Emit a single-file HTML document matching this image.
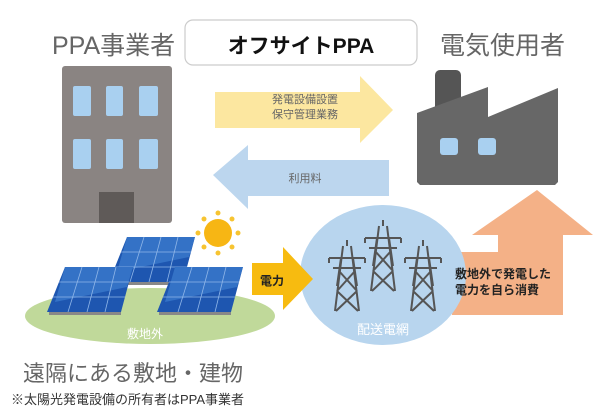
<!DOCTYPE html>
<html><head><meta charset="utf-8"><style>
body{margin:0;background:#fff;width:602px;height:417px;overflow:hidden;position:relative;font-family:"Liberation Sans","Noto Sans CJK JP",sans-serif}
.t{position:absolute;white-space:nowrap}
</style></head><body>
<svg width="602" height="417" style="position:absolute;left:0;top:0">
<defs>
<g id="tw" stroke="#555" stroke-width="2" fill="none">
<path d="M-4,0 L-12,65 M4,0 L12,65 M0,-6 L0,0 M-18,12 L18,12 M-14,22 L14,22 M-6,12 L-10,40 M6,12 L10,40 M-8,25 L10,45 M8,25 L-10,45 M-10,45 L11,65 M10,45 L-11,65 M-18,12 L-18,17 M18,12 L18,17"/>
</g>
<g id="pn">
<polygon points="0,0 68,0 56,45 -18,45" fill="#1e56b0"/>
<polygon points="0,0 68,0 62,20 -10,35" fill="#3d7fd0" opacity="0.7"/>
<g stroke="#8fb6e8" stroke-width="0.8"><line x1="-6" y1="15" x2="64" y2="15"/><line x1="-12" y1="30" x2="60" y2="30"/><line x1="17" y1="0" x2="3" y2="45"/><line x1="34" y1="0" x2="22" y2="45"/><line x1="51" y1="0" x2="40" y2="45"/></g>
<rect x="-16" y="45" width="72" height="3" fill="#888"/>
</g>
</defs>
<!-- building -->
<rect x="62" y="66" width="110" height="157" rx="3" fill="#8a8482"/>
<g fill="#a9d0f0"><rect x="73" y="86" width="18" height="30" rx="2"/><rect x="106" y="86" width="17" height="30" rx="2"/><rect x="139" y="86" width="19" height="30" rx="2"/>
<rect x="73" y="139" width="18" height="30" rx="2"/><rect x="106" y="139" width="17" height="30" rx="2"/><rect x="139" y="139" width="19" height="30" rx="2"/></g>
<rect x="99" y="192" width="35" height="31" fill="#5f5a58"/>
<!-- title box -->
<rect x="185" y="20" width="232" height="45" rx="8" fill="#fff" stroke="#ccc" stroke-width="1.2"/>
<!-- yellow arrow -->
<polygon points="215,92 360,92 360,76 393,110 360,143 360,128 215,128" fill="#fce7a0"/>
<!-- blue arrow -->
<polygon points="213,175 248,145 248,160 389,160 389,196 248,196 248,209" fill="#bcd6ee"/>
<!-- factory -->
<rect x="435" y="70" width="26" height="50" rx="5" fill="#555"/>
<polygon points="417,113 488,87 488,117 558,88 558,182 555,185 420,185 417,182" fill="#676767"/>
<rect x="440" y="138" width="18" height="17" rx="3" fill="#a9d0f0"/><rect x="478" y="138" width="18" height="17" rx="3" fill="#a9d0f0"/>
<!-- orange -->
<polygon points="537,190 593,235 563,235 563,315 452,315 452,252 498,252 498,235 472,235" fill="#f4b187"/>
<!-- circle -->
<ellipse cx="383" cy="275" rx="83" ry="70" fill="#b8d5ee"/>
<use href="#tw" x="347" y="246"/><use href="#tw" x="383" y="226"/><use href="#tw" x="423" y="246"/>
<!-- yellow small arrow -->
<polygon points="252,263 283,263 283,247 313,279 283,310 283,295 252,295" fill="#f7bb10"/>
<!-- ground -->
<ellipse cx="150" cy="316" rx="125" ry="28" fill="#c0d99a"/>
<use href="#pn" x="127" y="237"/>
<use href="#pn" x="65" y="267"/>
<use href="#pn" x="175" y="267"/>
<!-- sun -->
<circle cx="218" cy="233" r="14" fill="#f7b614"/>
<g fill="#f7c431"><circle cx="218" cy="213" r="2.5"/><circle cx="218" cy="253" r="2.5"/><circle cx="198" cy="233" r="2.5"/><circle cx="238" cy="233" r="2.5"/><circle cx="204" cy="219" r="2.5"/><circle cx="232" cy="219" r="2.5"/><circle cx="204" cy="247" r="2.5"/><circle cx="232" cy="247" r="2.5"/></g>
</svg>
<div class="t" style="left:52px;top:26px;font-size:25px;color:#666">PPA事業者</div>
<div class="t" style="left:440px;top:26px;font-size:25px;color:#666">電気使用者</div>
<div class="t" style="left:185px;width:232px;text-align:center;top:30px;font-size:21px;font-weight:bold;color:#111">オフサイトPPA</div>
<div class="t" style="left:250px;width:110px;text-align:center;top:93px;font-size:11px;line-height:15px;color:#666">発電設備設置<br>保守管理業務</div>
<div class="t" style="left:270px;width:70px;text-align:center;top:170px;font-size:11px;color:#666">利用料</div>
<div class="t" style="left:260px;top:272px;font-size:12px;font-weight:bold;color:#222">電力</div>
<div class="t" style="left:455px;top:266px;font-size:12px;line-height:16px;font-weight:bold;color:#222">敷地外で発電した<br>電力を自ら消費</div>
<div class="t" style="left:343px;width:80px;text-align:center;top:319px;font-size:13px;color:#fff">配送電網</div>
<div class="t" style="left:120px;width:50px;text-align:center;top:325px;font-size:12px;color:#fff">敷地外</div>
<div class="t" style="left:23px;top:356px;font-size:22px;color:#666">遠隔にある敷地・建物</div>
<div class="t" style="left:11px;top:389px;font-size:13px;color:#333">※太陽光発電設備の所有者はPPA事業者</div>
</body></html>
